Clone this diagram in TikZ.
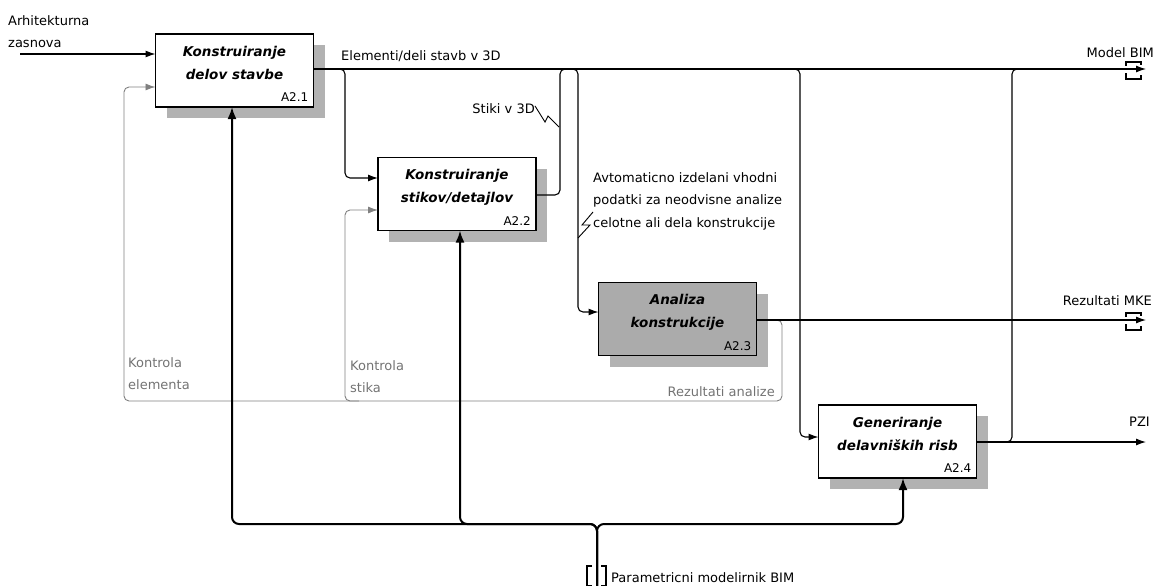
\documentclass[tikz,border=0pt]{standalone}
\usepackage{fontspec}
\setmainfont{DejaVu Sans}
\usetikzlibrary{arrows.meta,backgrounds}
\begin{document}
\begin{tikzpicture}[x=1pt,y=-1pt,
  box/.style={draw=black,line width=1.8pt,fill=white,minimum width=158pt,minimum height=73pt,inner sep=0pt,outer sep=0pt},
  title/.style={font=\bfseries\itshape\fontsize{13.5}{23}\selectfont,align=center,inner sep=0pt,anchor=north},
  code/.style={font=\fontsize{12}{14}\selectfont,inner xsep=5pt,inner ysep=5pt,anchor=south east},
  lbl/.style={font=\fontsize{13}{22.5}\selectfont,inner sep=0pt,align=left},
  glbl/.style={lbl,text=black!55},
  shadowfill/.style={fill=black!30},
  flow/.style={line width=1.1pt,rounded corners=5pt},
  arr/.style={-{Latex[length=10pt,width=7pt]}},
  fb/.style={draw=black!50,line width=0.9pt,rounded corners=5pt},
  garr/.style={-{Latex[length=10pt,width=7pt]}},
  mech/.style={line width=2pt,rounded corners=7pt},
  marr/.style={-{Latex[length=12pt,width=9pt]}},
  tun/.style={line width=1.3pt},
]
\useasboundingbox (0,0) rectangle (1156,586);

% boxes
\node[box] (b1) at (234.5,70.5) {};
\node[box] (b2) at (457,194) {};
\node[box,fill=black!33] (b3) at (677.5,319) {};
\node[box] (b4) at (897.5,441.5) {};

\begin{scope}[on background layer]
  \foreach \b in {b1,b2,b3,b4}{
    \fill[shadowfill] ([xshift=11pt,yshift=-11pt]\b.south west) rectangle ([xshift=11pt,yshift=-11pt]\b.north east);
  }
\end{scope}

\node[title] (t1) at ([yshift=-12pt]b1.north) {Konstruiranje\\delov stavbe};
\node[title] (t2) at ([yshift=-12pt]b2.north) {Konstruiranje\\stikov/detajlov};
\node[title] (t3) at ([yshift=-12pt]b3.north) {Analiza\\konstrukcije};
\node[title] (t4) at ([yshift=-12pt]b4.north) {Generiranje\\delavniških risb};
\node[code] (c1) at (b1.south east) {A2.1};
\node[code] (c2) at (b2.south east) {A2.2};
\node[code] (c3) at (b3.south east) {A2.3};
\node[code] (c4) at (b4.south east) {A2.4};

% coordinates
\coordinate (ain) at (20,54);
\coordinate (mbim) at (1146,69);
\coordinate (j1) at (345,69);
\coordinate (j1b) at (345,178);
\coordinate (s1) at (560,195);
\coordinate (s2) at (578,312);
\coordinate (s3) at (800,437);
\coordinate (s4) at (1012,442);
\coordinate (pzi) at (1146,442);
\coordinate (mke) at (1146,320);
\coordinate (f0) at (768,320);
\coordinate (f1) at (782,401);
\coordinate (f2) at (124,87);
\coordinate (f3) at (345,210);
\coordinate (pm) at (597,586);
\coordinate (mj) at (597,524);
\coordinate (m1) at (232,524);
\coordinate (m2) at (460,524);
\coordinate (m4) at (903,524);

% feedback (gray)
\draw[fb,garr,black!50] (f0) -- (f1 |- f0) -- (f1) -- (f2 |- f1) -- (f2) -- (f2 -| b1.west);
\draw[fb,garr,black!50] ([xshift=14pt]f3 |- f1) -- (f3 |- f1) -- (f3) -- (f3 -| b2.west);

% inputs / outputs
\draw[flow,arr] (ain) -- (ain -| b1.west);
\draw[flow,arr] (b1.east |- mbim) -- (mbim);
\draw[flow,arr] ([xshift=-12pt]j1) -- (j1) -- (j1b) -- (j1b -| b2.west);
\draw[flow] (b2.east |- s1) -- (s1) -- (s1 |- mbim) -- ([xshift=12pt]s1 |- mbim);
\draw[flow,arr] ([xshift=-12pt]s2 |- mbim) -- (s2 |- mbim) -- (s2) -- (s2 -| b3.west);
\draw[flow,arr] ([xshift=-12pt]s3 |- mbim) -- (s3 |- mbim) -- (s3) -- (s3 -| b4.west);
\draw[flow,arr] (b3.east |- mke) -- (mke);
\draw[flow,arr] (b4.east |- pzi) -- (pzi);
\draw[flow] ([xshift=-12pt]s4) -- (s4) -- (s4 |- mbim) -- ([xshift=12pt]s4 |- mbim);

% mechanisms
\draw[mech,marr] (pm) -- (mj) -- (m1) -- (m1 |- b1.south);
\draw[mech,marr] (pm) -- (mj) -- (m2) -- (m2 |- b2.south);
\draw[mech,marr] (pm) -- (mj) -- (m4) -- (m4 |- b4.south);

% tunnels
\draw[tun] (1126,66) -- (1126,62) -- (1141,62) -- (1141,65);
\draw[tun] (1126,73) -- (1126,79) -- (1141,79) -- (1141,75);
\draw[tun] (1126,317) -- (1126,313) -- (1141,313) -- (1141,316);
\draw[tun] (1126,324) -- (1126,330) -- (1141,330) -- (1141,326);
\draw[line width=1.8pt] (592,566) -- (587,566) -- (587,586) -- (592,586);
\draw[line width=1.8pt] (601,566) -- (606,566) -- (606,586) -- (601,586);

% labels
\node[lbl,anchor=north west] (lA) at (8,15) {Arhitekturna\\zasnova};
\node[lbl,anchor=base west] (lE) at (341,60) {Elementi/deli stavb v 3D};
\node[lbl,anchor=base east] (lM) at (1154,58) {Model BIM};
\node[lbl,anchor=base east] (lS) at (535,113) {Stiki v 3D};
\draw[line width=0.9pt] (lS.north east) ++(0,3) coordinate (z0) -- (545,122) -- (548,116) -- (559,127) coordinate (z1);
\node[lbl,anchor=north west] (lAv) at (593,172) {Avtomaticno izdelani vhodni\\podatki za neodvisne analize\\celotne ali dela konstrukcije};
\draw[line width=0.9pt] (593,212) coordinate (z2) -- (582,225) -- (590,225) -- (578,238) coordinate (z3);
\node[lbl,anchor=base east] (lR) at (1152,305) {Rezultati MKE};
\node[lbl,anchor=base east] (lP) at (1150,426) {PZI};
\node[glbl,anchor=base east] (lRa) at (775,396) {Rezultati analize};
\node[glbl,anchor=north west] (lKe) at (128,357) {Kontrola\\elementa};
\node[glbl,anchor=north west] (lKs) at (350,360) {Kontrola\\stika};
\node[lbl,anchor=base west] (lPm) at (611,582) {Parametricni modelirnik BIM};
\end{tikzpicture}
\end{document}
